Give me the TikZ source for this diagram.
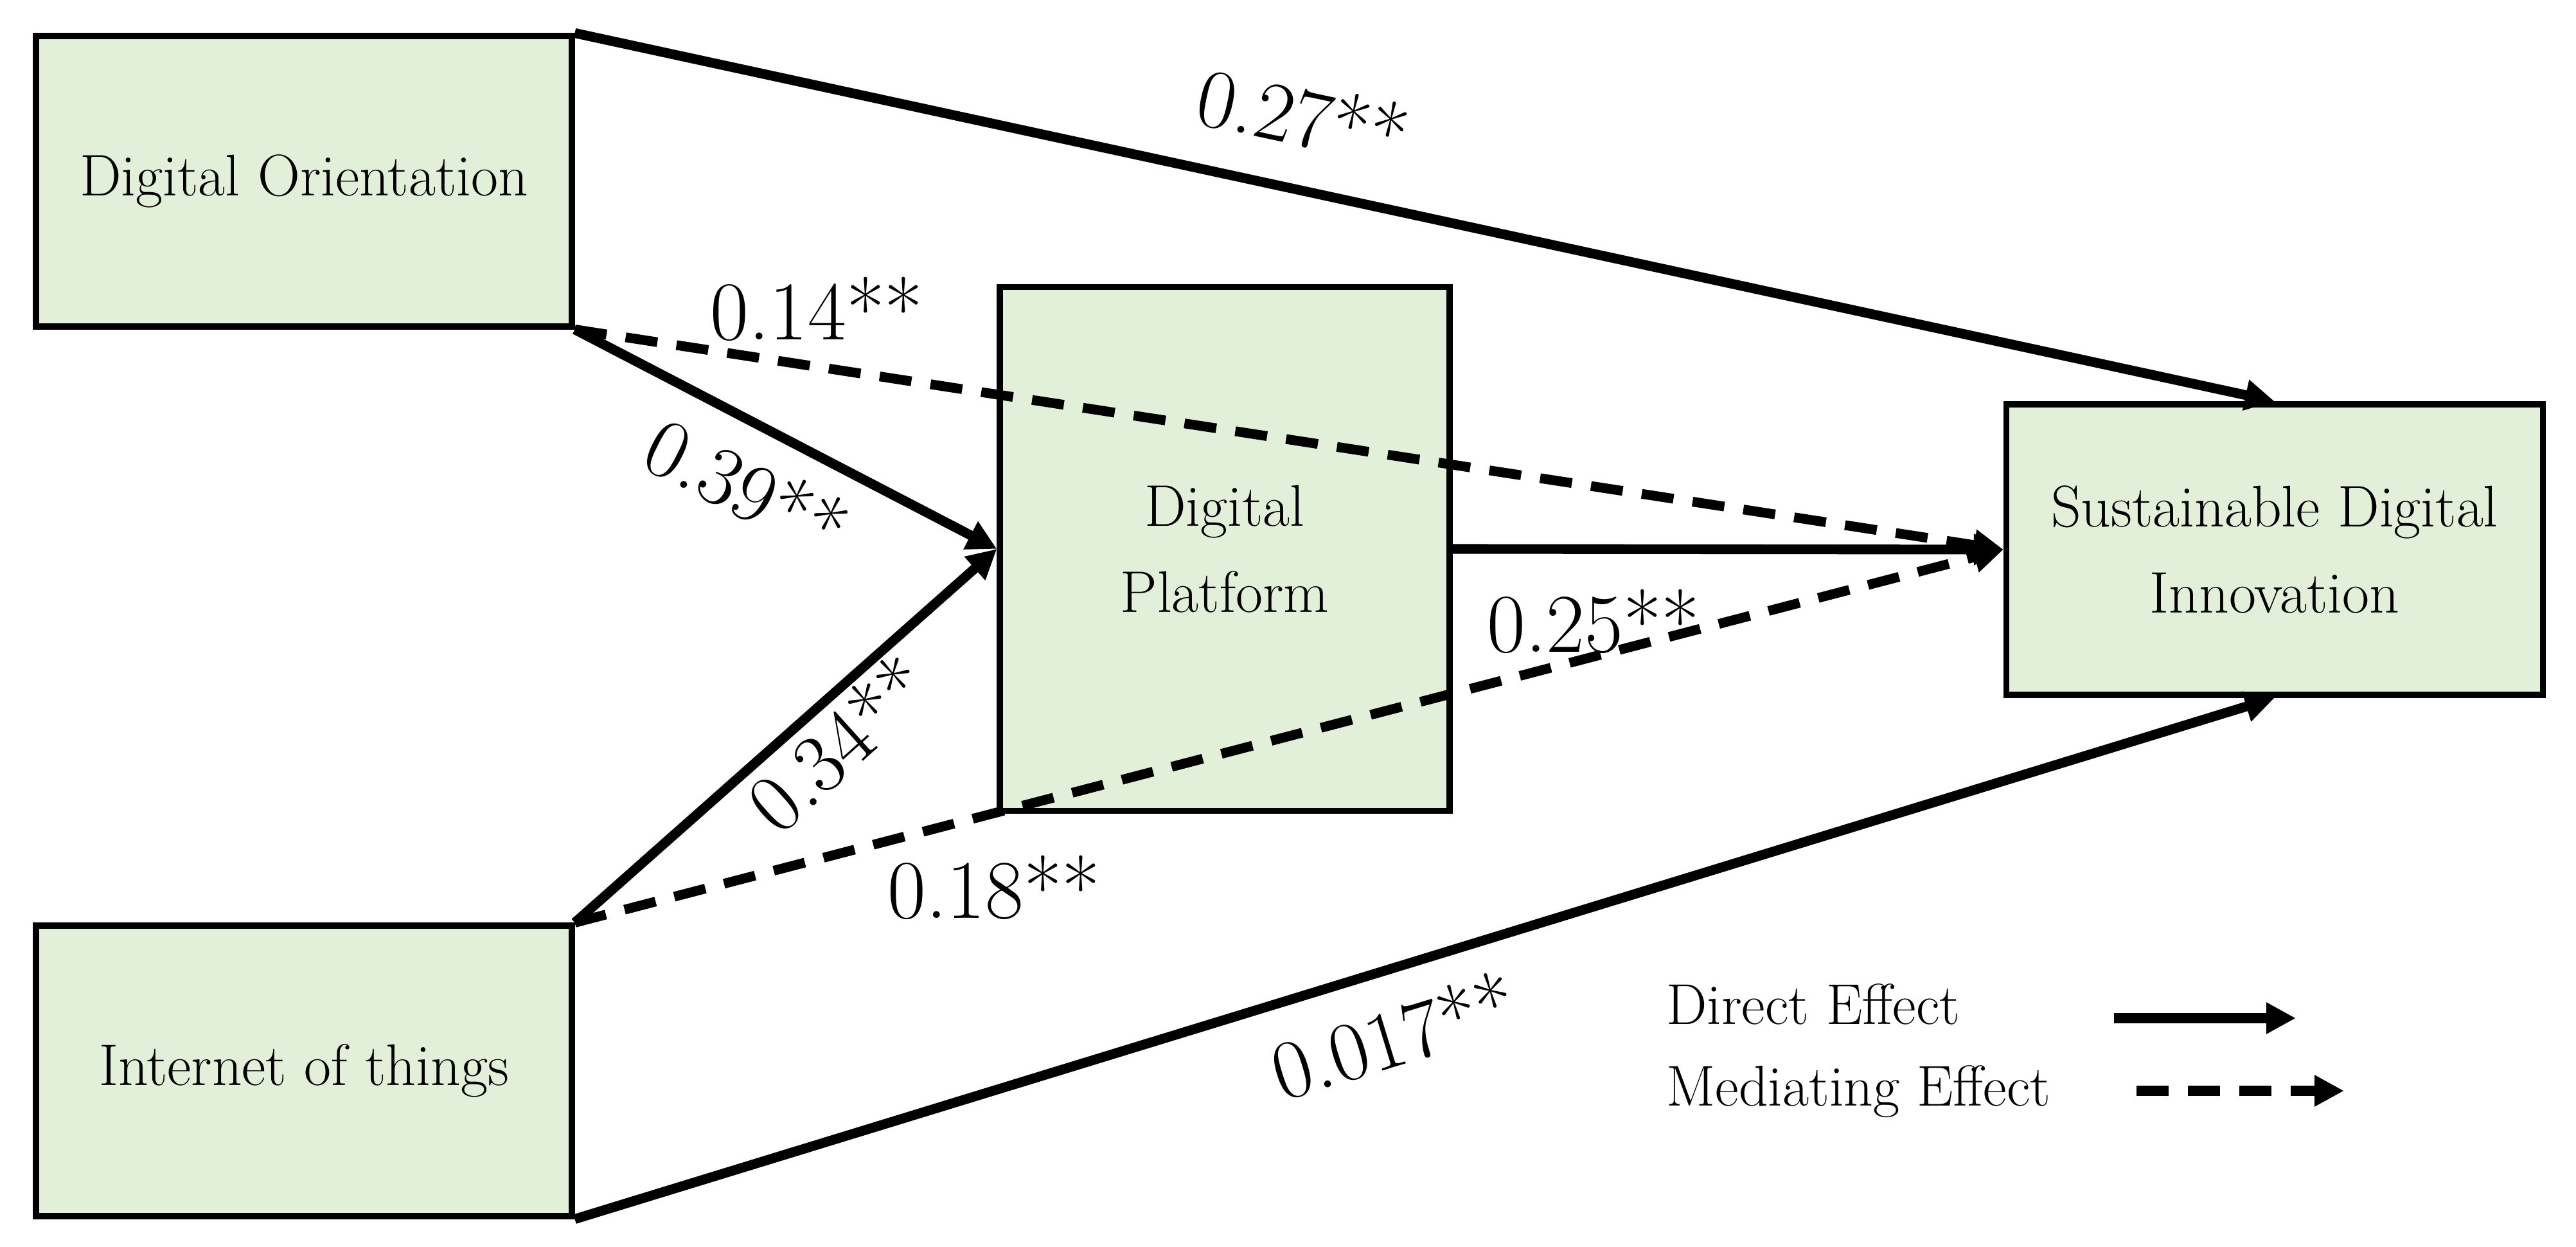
\documentclass[tikz,border=0pt]{standalone}
\usepackage{fontspec}
\usetikzlibrary{arrows.meta}
\definecolor{boxgreen}{HTML}{E2EFD9}
\begin{document}
\begin{tikzpicture}[
  box/.style={draw,line width=2.6pt,fill=boxgreen,align=center,font=\fontsize{26}{38}\selectfont},
  direct/.style={-{Triangle[length=4.6mm,width=4.6mm]},line width=4.3pt},
  mediate/.style={direct,dash pattern=on 5mm off 3mm},
  coef/.style={font=\fontsize{37}{42}\selectfont},
  legend/.style={anchor=west,font=\fontsize{25.5}{30}\selectfont}]
\useasboundingbox (0,0) rectangle (40.09,19.39);
\node[box,minimum width=8.34cm,minimum height=4.52cm] (DO) at (4.73,16.57) {Digital Orientation};
\node[box,minimum width=7.00cm,minimum height=8.15cm] (DP) at (19.06,10.85) {Digital\\Platform};
\node[box,minimum width=8.35cm,minimum height=4.52cm] (SDI) at (35.40,10.84) {Sustainable Digital\\Innovation};
\node[box,minimum width=8.34cm,minimum height=4.52cm] (IoT) at (4.73,2.73) {Internet of things};
\draw[direct] (DO.north east) -- (SDI.north);
\draw[mediate] (DO.south east) -- (SDI.west);
\draw[direct] (DO.south east) -- (DP.west);
\draw[direct] (IoT.north east) -- (DP.west);
\draw[mediate] (IoT.north east) -- (SDI.west);
\draw[direct] (DP.east) -- (SDI.west);
\draw[direct] (IoT.south east) -- (SDI.south);
\node[coef,rotate=-12] (l27) at (20.28,17.60) {0.27**};
\node[coef] (l14) at (12.71,14.58) {0.14**};
\node[coef,rotate=-27] (l39) at (11.63,11.82) {0.39**};
\node[coef,rotate=42] (l34) at (13.04,7.83) {0.34**};
\node[coef] (l25) at (24.80,9.72) {0.25**};
\node[coef] (l18) at (15.47,5.58) {0.18**};
\node[coef,rotate=17] (l017) at (21.68,3.28) {0.017**};
% legend
\node[legend] (dirtxt) at (25.81,3.77) {Direct Effect};
\node[legend] (medtxt) at (25.81,2.41) {Mediating Effect};
\coordinate (dirA) at (32.90,3.55);
\coordinate (dirB) at (35.73,3.55);
\coordinate (medA) at (33.25,2.42);
\coordinate (medB) at (36.48,2.42);
\draw[direct] (dirA) -- (dirB);
\draw[mediate] (medA) -- (medB);
\end{tikzpicture}
\end{document}
